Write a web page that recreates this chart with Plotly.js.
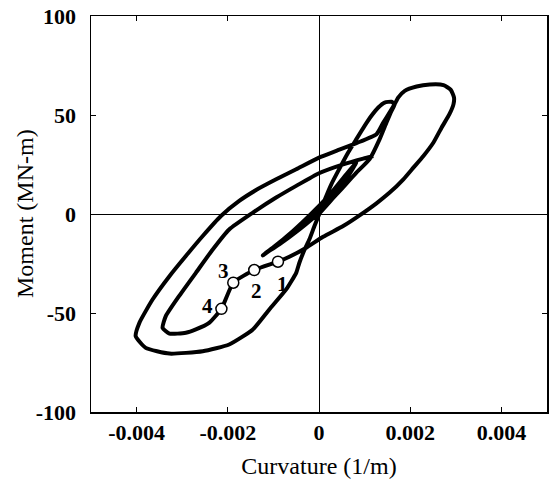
<!DOCTYPE html>
<html>
<head>
<meta charset="utf-8">
<script src="https://cdn.plot.ly/plotly-3.0.1.min.js"></script>
<style>
  html, body { margin: 0; padding: 0; background: #fff; }
  #chart { width: 551px; height: 488px; }
</style>
</head>
<body>
<div id="chart"></div>
<script>
// Moment-curvature response of the section (one continuous load path).
const curvature = [
  0.00000, 0.00038, 0.00053, 0.00035, 0.00002, -0.00035, -0.00079, -0.00123,
  -0.00083, -0.00039, 0.00002, 0.00038, 0.00064, 0.00082, 0.00060, 0.00024,
  -0.00013, -0.00057, -0.00101, -0.00120, -0.00087, -0.00043, 0.00002, 0.00042,
  0.00082, 0.00111, 0.00133, 0.00148, 0.00159, 0.00166,
  0.00159, 0.00144, 0.00130, 0.00115, 0.00100, 0.00082, 0.00064, 0.00046,
  0.00027, 0.00013, 0.00002, -0.00010, -0.00021, -0.00032, -0.00043, -0.00050,
  -0.00072, -0.00109, -0.00145, -0.00197, -0.00255, -0.00328, -0.00380, -0.00402,
  -0.00394, -0.00365, -0.00328, -0.00292, -0.00255, -0.00215, -0.00175, -0.00138,
  -0.00094, -0.00050, 0.00000, 0.00038, 0.00082, 0.00126, 0.00141, 0.00155, 0.00166,
  0.00174, 0.00188, 0.00214, 0.00243, 0.00273, 0.00289, 0.00296, 0.00295,
  0.00286, 0.00269, 0.00251, 0.00229, 0.00207, 0.00185, 0.00155, 0.00126,
  0.00089, 0.00053, 0.00009, -0.00028, -0.00065, -0.00090,
  -0.00142, -0.00188, -0.00214,
  -0.00241, -0.00270, -0.00292, -0.00328, -0.00343, -0.00336, -0.00307, -0.00270,
  -0.00233, -0.00197, -0.00145, -0.00094, -0.00050, 0.00000, 0.00053, 0.00097, 0.00119
];
const moment = [
  0.0, 9.9, 15.0, 10.8, 3.2, -4.7, -13.2, -20.9,
  -14.2, -5.7, 2.7, 12.1, 19.2, 26.0, 20.1, 9.9,
  1.0, -8.6, -17.0, -20.2, -15.3, -7.8, 1.0, 10.8,
  20.9, 27.7, 37.8, 46.2, 52.1, 55.5,
  56.7, 56.3, 53.8, 49.6, 44.5, 37.8, 31.0, 23.4,
  15.0, 7.4, 0.7, -6.1, -12.8, -18.2, -24.6, -29.7,
  -38.1, -48.2, -58.3, -65.9, -69.3, -70.5, -67.6, -61.7,
  -55.0, -43.2, -31.4, -21.2, -11.1, -1.0, 6.6, 12.1,
  17.5, 22.6, 28.5, 31.9, 35.8, 40.3, 46.2, 51.3, 55.5,
  58.9, 62.2, 64.4, 65.4, 65.1, 62.7, 58.9, 55.5,
  50.4, 43.7, 36.1, 29.3, 23.4, 17.5, 10.8, 5.4,
  -0.7, -6.1, -11.5, -17.0, -21.6, -24.1,
  -28.3, -34.7, -47.9,
  -55.0, -58.3, -60.0, -60.4, -57.5, -51.6, -41.5, -29.7,
  -17.9, -7.8, 0.7, 8.3, 14.2, 20.6, 25.1, 28.0, 29.3
];

// Numbered states on the final unloading branch
const stateLabels = ['1', '2', '3', '4'];
const stateCurvature = [-0.00090, -0.00142, -0.00188, -0.00214];
const stateMoment = [-24.1, -28.3, -34.7, -47.9];

const xTicks = [-0.004, -0.002, 0, 0.002, 0.004];
const xTickText = ['-0.004', '-0.002', '0', '0.002', '0.004'];
const yTicks = [-100, -50, 0, 50, 100];
const yTickText = ['-100', '-50', '0', '50', '100'];

const serif = 'Liberation Serif, Times New Roman, serif';

const traces = [
  {
    x: curvature, y: moment,
    type: 'scatter', mode: 'lines',
    line: { color: '#000', width: 4, shape: 'spline', smoothing: 0.5 },
    hoverinfo: 'skip'
  },
  {
    x: stateCurvature, y: stateMoment,
    type: 'scatter', mode: 'markers',
    marker: { size: 11, color: '#fff', line: { color: '#000', width: 1.5 } },
    hoverinfo: 'skip'
  }
];

// label offsets (px) around each state marker
const labelShift = [[5, -22], [2, -21], [-10, 12], [-14, 3]];
const annotations = stateLabels.map((t, i) => ({
  x: stateCurvature[i], y: stateMoment[i], xref: 'x', yref: 'y',
  text: '<b>' + t + '</b>', showarrow: false,
  xshift: labelShift[i][0], yshift: labelShift[i][1],
  font: { family: serif, size: 21, color: '#000' }
}));

// vertical axis title, set close to the tick labels
annotations.push({
  text: 'Moment (MN-m)', textangle: -90, showarrow: false,
  xref: 'paper', yref: 'paper', x: 0, y: 0.5,
  xanchor: 'center', yanchor: 'middle', xshift: -66,
  font: { family: serif, size: 24, color: '#000' }
});

const axisCommon = {
  showgrid: false,
  zeroline: true, zerolinecolor: '#000', zerolinewidth: 1,
  showline: true, linecolor: '#000', linewidth: 1.5, mirror: 'ticks',
  ticks: 'inside', ticklen: 5, tickwidth: 1, tickcolor: '#000',
  tickfont: { family: serif, size: 22, color: '#000', weight: 'bold' },
  fixedrange: true
};

const layout = {
  width: 551, height: 488,
  margin: { l: 91, r: 4, t: 16, b: 76 },
  paper_bgcolor: '#fff', plot_bgcolor: '#fff',
  showlegend: false,
  xaxis: Object.assign({}, axisCommon, {
    range: [-0.005, 0.005],
    tickvals: xTicks, ticktext: xTickText,
    ticklabelstandoff: 0,
    title: { text: 'Curvature (1/m)', font: { family: serif, size: 24, color: '#000' }, standoff: 13 }
  }),
  yaxis: Object.assign({}, axisCommon, {
    range: [-100, 100],
    tickvals: yTicks, ticktext: yTickText,
    ticklabelstandoff: 9
  }),
  annotations: annotations
};

Plotly.newPlot('chart', traces, layout, { displayModeBar: false, staticPlot: true });
</script>
</body>
</html>
